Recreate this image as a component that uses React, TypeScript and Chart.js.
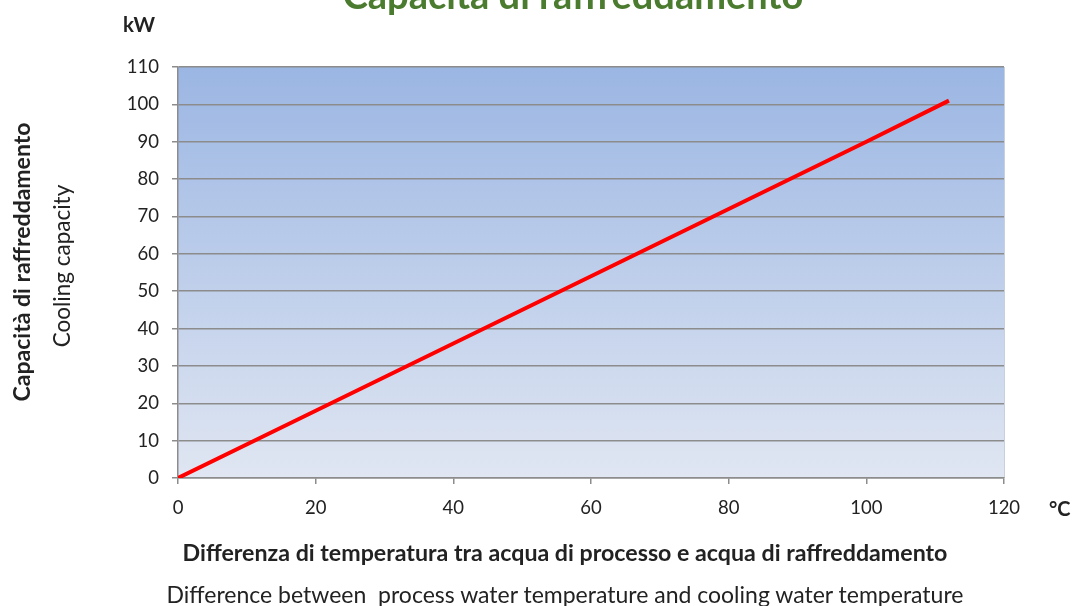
import React, { useEffect, useRef } from "react";
import { Chart, registerables } from "chart.js";

Chart.register(...registerables);

const tempDiff = [0, 20, 40, 60, 80, 100, 112];
const capacity = [0, 18, 36, 54, 72, 90, 101];
const yTicksMax = 110;
const yTickStep = 10;
const xTicksMax = 120;
const xTickStep = 20;

const title = "Capacità di raffreddamento";
const yTitleIt = "Capacità di raffreddamento";
const yTitleEn = "Cooling capacity";
const xTitleIt = "Differenza di temperatura tra acqua di processo e acqua di raffreddamento";
const xTitleEn = "Difference between  process water temperature and cooling water temperature";
const yUnit = "kW";
const xUnit = "°C";

const FONT = "Lato, 'DejaVu Sans', sans-serif";
const TEXT = "#222222";

const bgPlugin = {
  id: "bgGradient",
  beforeDraw(chart: any) {
    const { ctx, chartArea } = chart;
    if (!chartArea) return;
    const g = ctx.createLinearGradient(0, chartArea.top, 0, chartArea.bottom);
    g.addColorStop(0, "#9bb6e3");
    g.addColorStop(1, "#e0e6f2");
    ctx.save();
    ctx.fillStyle = g;
    ctx.fillRect(chartArea.left, chartArea.top, chartArea.right - chartArea.left, chartArea.bottom - chartArea.top);
    ctx.strokeStyle = "#c8d0de";
    ctx.lineWidth = 1;
    ctx.beginPath();
    ctx.moveTo(chartArea.right + 0.5, chartArea.top);
    ctx.lineTo(chartArea.right + 0.5, chartArea.bottom);
    ctx.stroke();
    ctx.restore();
  },
};

export default function App() {
  const ref = useRef<HTMLCanvasElement | null>(null);

  useEffect(() => {
    if (!ref.current) return;
    const chart = new Chart(ref.current, {
      type: "line",
      data: {
        datasets: [
          {
            data: tempDiff.map((x, i) => ({ x, y: capacity[i] })),
            borderColor: "#ff0000",
            borderWidth: 4,
            pointRadius: 0,
            fill: false,
            tension: 0,
          },
        ],
      },
      options: {
        animation: false,
        responsive: false,
        devicePixelRatio: 1,
        layout: { padding: { left: 0, top: 67, right: 68, bottom: 88 } },
        plugins: { legend: { display: false }, tooltip: { enabled: false }, title: { display: false } },
        scales: {
          x: {
            type: "linear",
            min: 0,
            max: xTicksMax,
            ticks: {
              stepSize: xTickStep,
              padding: 13,
              color: TEXT,
              font: { family: FONT, size: 18.5 },
              maxRotation: 0,
            },
            grid: { drawOnChartArea: false, drawTicks: true, tickLength: 6, color: "#8c8c8c", lineWidth: 1.5 },
            border: { display: true, color: "#8c8c8c", width: 1.5 },
            afterFit(scale: any) {
              scale.height = 40;
            },
          },
          y: {
            type: "linear",
            min: 0,
            max: yTicksMax,
            ticks: {
              stepSize: yTickStep,
              padding: 13,
              color: TEXT,
              font: { family: FONT, size: 18.5 },
            },
            grid: { drawOnChartArea: true, drawTicks: true, tickLength: 6, color: "#8c8c8c", lineWidth: 1.5 },
            border: { display: true, color: "#8c8c8c", width: 1.5 },
            afterFit(scale: any) {
              scale.width = 178;
            },
          },
        },
      },
      plugins: [bgPlugin],
    });
    return () => chart.destroy();
  }, []);

  const abs = (s: React.CSSProperties): React.CSSProperties => ({
    position: "absolute",
    fontFamily: FONT,
    color: TEXT,
    whiteSpace: "pre",
    lineHeight: 1,
    margin: 0,
    ...s,
  });

  return (
    <div style={{ position: "fixed", left: 0, top: 0, width: 1072, height: 606, background: "#fff", overflow: "hidden" }}>
      <canvas ref={ref} width={1072} height={606} style={{ position: "absolute", left: 0, top: 0, width: 1072, height: 606 }} />
      <div style={abs({ left: 573, top: -25, transform: "translateX(-50%)", fontSize: 38, fontWeight: 700, color: "#4a7b2f" })}>{title}</div>
      <div style={abs({ left: 123, top: 14, fontSize: 20.5, fontWeight: 700 })}>{yUnit}</div>
      <div style={abs({ left: 1049, top: 498, fontSize: 20, fontWeight: 700 })}>{xUnit}</div>
      <div style={abs({ left: 21, top: 262, transform: "translate(-50%, -50%) rotate(-90deg)", fontSize: 23, fontWeight: 700 })}>{yTitleIt}</div>
      <div style={abs({ left: 62, top: 266, transform: "translate(-50%, -50%) rotate(-90deg)", fontSize: 22.5 })}>{yTitleEn}</div>
      <div style={abs({ left: 565, top: 553, transform: "translate(-50%, -50%)", fontSize: 23.2, fontWeight: 700 })}>{xTitleIt}</div>
      <div style={abs({ left: 565, top: 594, transform: "translate(-50%, -50%)", fontSize: 23 })}>{xTitleEn}</div>
    </div>
  );
}
